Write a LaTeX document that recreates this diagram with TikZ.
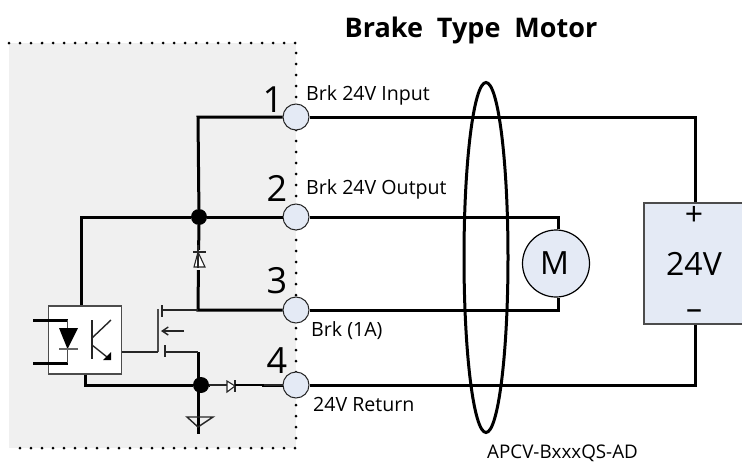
\documentclass[tikz,border=0pt]{standalone}
\usepackage{fontspec}
\usetikzlibrary{arrows.meta}
\setmainfont{Open Sans}
\definecolor{panelgray}{HTML}{F0F0F0}
\definecolor{partblue}{HTML}{E4EAF5}
\tikzset{
  wire/.style={line width=3pt},
  thinwire/.style={line width=1.4pt,draw=black!85},
  diodeline/.style={line width=1.1pt,draw=black!85},
  pin/.style={circle,draw=black!85,line width=1pt,fill=partblue,minimum size=26pt,inner sep=0pt},
  junction/.style={circle,fill=black,minimum size=16pt,inner sep=0pt},
  pinnum/.style={font=\fontsize{36}{38}\selectfont,inner sep=0pt},
  pinlabel/.style={font=\fontsize{19.6}{22}\selectfont,anchor=west,inner sep=0pt},
}
\begin{document}
\begin{tikzpicture}[x=1pt,y=-1pt]
\useasboundingbox (0,0) rectangle (742,463);

% panel
\fill[panelgray] (9,43) rectangle (296,448);
\draw[line width=3pt,line cap=round,dash pattern=on 0pt off 11pt] (9,43) -- (296,43) -- (296,448) -- (9,448);

% pins and parts
\coordinate (c1) at (198,117);
\coordinate (c2) at (81,217);
\coordinate (c3) at (558,217);
\coordinate (c4) at (558,310);
\coordinate (c5) at (198,310);
\coordinate (c6) at (85,385);
\coordinate (c7) at (695,117);
\coordinate (c8) at (695,385);
\node[pin] (pin1) at (296,117) {};
\node[pin] (pin2) at (296,217) {};
\node[pin] (pin3) at (296,310) {};
\node[pin] (pin4) at (296,385) {};
\node[junction] (junc1) at (199,217) {};
\node[junction] (junc2) at (201,385) {};
\node[draw=black!70,line width=1.2pt,fill=white,minimum width=73pt,minimum height=68pt,inner sep=0pt] (opto) at (85,340) {};
\node[circle,draw=black,line width=1.2pt,fill=partblue,minimum size=67pt,inner sep=0pt,font=\fontsize{32}{34}\selectfont] (motor) at (556,263.5) {\hspace*{-3pt}M};

% wires
\draw[wire] (pin1) -- (c1) -- (junc1);
\draw[wire] (pin1) -- (c7) -- (695,203);
\draw[wire] (pin2) -- (junc1);
\draw[wire] (junc1) -- (c2) -- (opto.north -| c2);
\draw[wire] (pin2) -- (c3) -- (motor.north -| c3);
\draw[wire] (pin3) -- (c4) -- (motor.south -| c4);
\draw[wire] (pin3) -- (c5) -- (junc1);
\draw[wire] (pin4) -- (c8) -- (695,324);
\draw[wire] (opto.south) -- (c6) -- (junc2);
\draw[wire] (junc2) -- (pin4);
\draw[wire] (198,352) -- (198,385);
\draw[wire] (198,385) -- (198,434);

% clamp diodes
\fill[panelgray] (188,250) rectangle (208,270);
\draw[diodeline,fill=white] (198,252) -- (194,267) -- (205,267) -- cycle;
\draw[diodeline] (193,252) -- (206,252);
\draw[diodeline] (198,245) -- (198,268);
\fill[panelgray] (210,378) rectangle (262,394);
\draw[thinwire] (junc2) -- (227,385);
\draw[diodeline,fill=white] (227,381) -- (227,392) -- (235,386) -- cycle;
\draw[diodeline] (235,380) -- (235,392);
\draw[line width=2pt] (235,385) -- (264,385);
\draw[thinwire] (264,385) -- (pin4);

% ground
\draw[thinwire] (187,417) -- (213,417) -- (198,427) -- cycle;

% mosfet
\draw[thinwire] (c5) -- (162,310);
\draw[thinwire] (162,305) -- (162,317);
\draw[line width=1.6pt,draw=black!70] (158,309) -- (158,352);
\draw[thinwire] (opto.east |- 0,352) -- (158,352);
\draw[thinwire] (165,345) -- (165,357);
\draw[thinwire] (165,352) -- (198,352);
\draw[thinwire,-{Straight Barb[length=6pt,width=8pt]}] (184,331) -- (161,331);

% opto
\draw[wire] (33,320) -- (68,320);
\draw[wire] (33,363) -- (68,363);
\draw[thinwire,draw=black!70] (67.5,320) -- (67.5,363);
\fill (59,328) -- (78,328) -- (67.5,349) -- cycle;
\draw[thinwire,draw=black!60] (59,349) -- (78,349);
\draw[thinwire] (92,320) -- (92,359);
\draw[thinwire] (92,338) -- (111,320);
\draw[thinwire] (92,345) -- (107,357);
\fill (103,360) -- (111,352) -- (111,360) -- cycle;

% supply
\fill[partblue] (644,203) rectangle (742,324);
\draw[line width=1.2pt,draw=black!70] (742,203) -- (644,203) -- (644,324) -- (742,324);
\node[inner sep=0pt,font=\fontsize{32}{34}\selectfont] (supply) at (694,264) {24V};
\node[inner sep=0pt,font=\fontsize{32}{34}\selectfont] (plus) at (694,216) {+};
\node[inner sep=0pt,font=\fontsize{32}{34}\selectfont] (minus) at (694,315) {–};

% cable
\draw[line width=3pt] (486,257.5) ellipse (22pt and 175pt);

% labels
\node[font=\fontsize{27}{30}\selectfont\bfseries,inner sep=0pt] (title) at (471,30) {Brake\hspace{7pt} Type\hspace{7pt} Motor};
\node[pinnum] (num1) at (273,100) {1};
\node[pinnum] (num2) at (277,188) {2};
\node[pinnum] (num3) at (277,281) {3};
\node[pinnum] (num4) at (277,361) {4};
\node[pinlabel] (lab1) at (306,95) {Brk 24V Input};
\node[pinlabel] (lab2) at (306,189) {Brk 24V Output};
\node[pinlabel] (lab3) at (311,331) {Brk (1A)};
\node[pinlabel] (lab4) at (313,404) {24V Return};
\node[font=\fontsize{18.8}{22}\selectfont,inner sep=0pt,anchor=west] (cable) at (487,453) {APCV-BxxxQS-AD};
\end{tikzpicture}
\end{document}
